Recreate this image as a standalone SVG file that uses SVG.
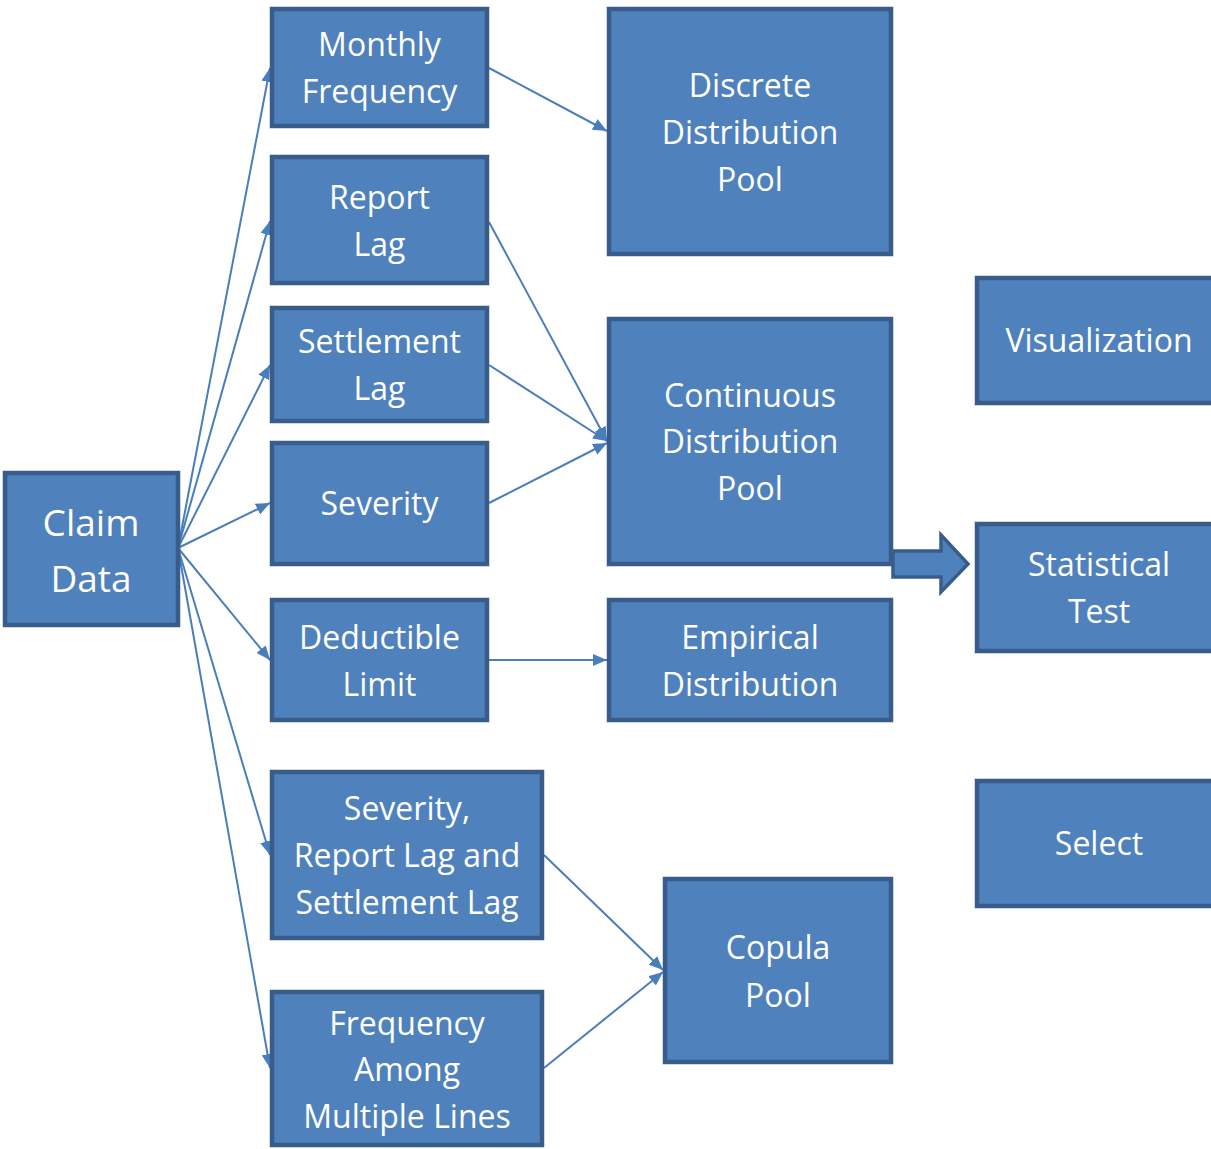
<svg xmlns="http://www.w3.org/2000/svg" width="1211" height="1149" viewBox="0 0 1211 1149">
  <style>
    .box rect { fill: #4F81BD; stroke: #385D8A; stroke-width: 4.5; }
    .box text { fill: #FFFFFF; font-family: "Open Sans", "Noto Sans", sans-serif; font-size: 32px; text-anchor: middle; }
    .box text.big { font-size: 37px; }
    .conn line { stroke: #4A7EBB; stroke-width: 2; marker-end: url(#tri); }
    .block { fill: #4F81BD; stroke: #385D8A; stroke-width: 3.5; stroke-linejoin: miter; }
  </style>
  <defs>
    <marker id="tri" markerUnits="userSpaceOnUse" markerWidth="14" markerHeight="12" refX="14" refY="6" orient="auto">
      <path d="M0,0 L14,6 L0,12 Z" fill="#4A7EBB"/>
    </marker>
  </defs>
  <rect width="1211" height="1149" fill="#FFFFFF"/>

  <!-- connectors -->
  <g id="connectors" class="conn">
    <line x1="178" y1="548" x2="270" y2="68"/>
    <line x1="178" y1="548" x2="270" y2="221"/>
    <line x1="178" y1="548" x2="270" y2="365"/>
    <line x1="178" y1="548" x2="270" y2="503"/>
    <line x1="178" y1="548" x2="270" y2="660"/>
    <line x1="178" y1="548" x2="270" y2="855"/>
    <line x1="178" y1="548" x2="270" y2="1068"/>
    <line x1="489" y1="68" x2="607" y2="131"/>
    <line x1="489" y1="222" x2="607" y2="441"/>
    <line x1="489" y1="365" x2="607" y2="441"/>
    <line x1="489" y1="503" x2="607" y2="443"/>
    <line x1="489" y1="660" x2="607" y2="660"/>
    <line x1="544" y1="855" x2="663" y2="970"/>
    <line x1="544" y1="1068" x2="663" y2="972"/>
  </g>

  <g id="claim-data" class="box">
    <rect x="5" y="473" width="173" height="152"/>
    <text class="big" x="91" y="536">Claim</text>
    <text class="big" x="91" y="592">Data</text>
  </g>
  <g id="monthly-frequency" class="box">
    <rect x="272" y="9" width="215" height="117"/>
    <text x="379.5" y="56">Monthly</text>
    <text x="379.5" y="103">Frequency</text>
  </g>
  <g id="report-lag" class="box">
    <rect x="272" y="157" width="215" height="126"/>
    <text x="379.5" y="209">Report</text>
    <text x="379.5" y="256">Lag</text>
  </g>
  <g id="settlement-lag" class="box">
    <rect x="272" y="308" width="215" height="113"/>
    <text x="379.5" y="353">Settlement</text>
    <text x="379.5" y="400">Lag</text>
  </g>
  <g id="severity" class="box">
    <rect x="272" y="443" width="215" height="121"/>
    <text x="379.5" y="515">Severity</text>
  </g>
  <g id="deductible-limit" class="box">
    <rect x="272" y="600" width="215" height="120"/>
    <text x="379.5" y="649">Deductible</text>
    <text x="379.5" y="696">Limit</text>
  </g>
  <g id="joint-severity-lags" class="box">
    <rect x="272" y="772" width="270" height="166"/>
    <text x="407" y="820">Severity,</text>
    <text x="407" y="867">Report Lag and</text>
    <text x="407" y="914">Settlement Lag</text>
  </g>
  <g id="frequency-multiple-lines" class="box">
    <rect x="272" y="992" width="270" height="153"/>
    <text x="407" y="1035">Frequency</text>
    <text x="407" y="1081">Among</text>
    <text x="407" y="1128">Multiple Lines</text>
  </g>
  <g id="discrete-pool" class="box">
    <rect x="609" y="9" width="282" height="245"/>
    <text x="750" y="97">Discrete</text>
    <text x="750" y="144">Distribution</text>
    <text x="750" y="191">Pool</text>
  </g>
  <g id="continuous-pool" class="box">
    <rect x="609" y="319" width="282" height="245"/>
    <text x="750" y="407">Continuous</text>
    <text x="750" y="453">Distribution</text>
    <text x="750" y="500">Pool</text>
  </g>
  <g id="empirical-distribution" class="box">
    <rect x="609" y="600" width="282" height="120"/>
    <text x="750" y="649">Empirical</text>
    <text x="750" y="696">Distribution</text>
  </g>
  <g id="copula-pool" class="box">
    <rect x="665" y="879" width="226" height="183"/>
    <text x="778" y="959">Copula</text>
    <text x="778" y="1007">Pool</text>
  </g>
  <g id="visualization" class="box">
    <rect x="977" y="278" width="246" height="125"/>
    <text x="1099" y="352">Visualization</text>
  </g>
  <g id="statistical-test" class="box">
    <rect x="977" y="524" width="246" height="127"/>
    <text x="1099" y="576">Statistical</text>
    <text x="1099" y="623">Test</text>
  </g>
  <g id="select" class="box">
    <rect x="977" y="781" width="246" height="125"/>
    <text x="1099" y="855">Select</text>
  </g>

  <!-- block arrow from continuous pool to statistical test -->
  <g id="to-statistical-test">
    <polygon class="block" points="893,551 941,551 941,535 968,564 941,592 941,577 893,577"/>
  </g>
</svg>
